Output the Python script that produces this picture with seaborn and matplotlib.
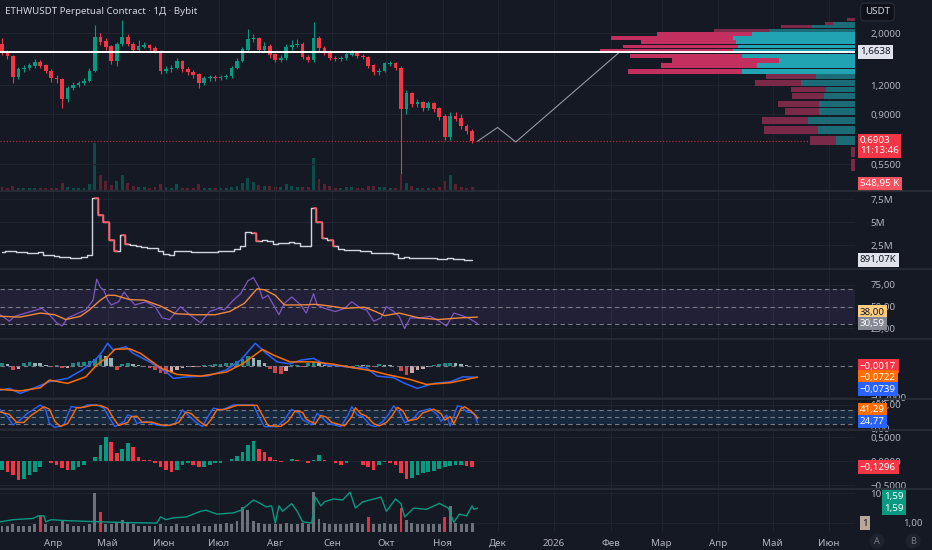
import numpy as np
import pandas as pd
import matplotlib
matplotlib.use("Agg")
import matplotlib.pyplot as plt
import matplotlib.transforms as mtransforms
import seaborn as sns

# ----------------- Data -----------------
title = "ETHWUSDT Perpetual Contract · 1Д · Bybit"
day0 = pd.Timestamp("2025-04-01")
first_candle = pd.Timestamp("2025-03-03")   # 3-day candles from here
month_labels = ["Апр", "Май", "Июн", "Июл", "Авг", "Сен", "Окт", "Ноя",
                "Дек", "2026", "Фев", "Мар", "Апр", "Май", "Июн"]

candle_open = [1.80, 1.65, 1.60, 1.30, 1.40, 1.42, 1.45, 1.50, 1.45, 1.38,
               1.28, 1.27, 1.05, 1.16, 1.20, 1.22, 1.25, 1.38, 1.92, 1.84,
               1.75, 1.52, 1.80, 1.92, 1.80, 1.70, 1.75, 1.78, 1.72, 1.68,
               1.38, 1.40, 1.42, 1.52, 1.40, 1.36, 1.33, 1.22, 1.28, 1.30,
               1.28, 1.30, 1.31, 1.42, 1.52, 1.70, 1.88, 1.90, 1.70, 1.75,
               1.62, 1.53, 1.56, 1.74, 1.78, 1.80, 1.58, 1.53, 1.90, 1.72,
               1.66, 1.56, 1.55, 1.56, 1.62, 1.65, 1.60, 1.58, 1.45, 1.36,
               1.38, 1.48, 1.49, 1.42, 0.95, 1.10, 1.00, 1.01, 0.96, 1.00,
               0.95, 0.88, 0.72, 0.88, 0.86, 0.80, 0.76]
candle_close = [1.65, 1.60, 1.30, 1.40, 1.42, 1.45, 1.50, 1.45, 1.38, 1.28,
                1.27, 1.05, 1.16, 1.20, 1.22, 1.25, 1.38, 1.92, 1.84, 1.75,
                1.52, 1.80, 1.92, 1.80, 1.70, 1.75, 1.78, 1.72, 1.68, 1.38,
                1.40, 1.42, 1.52, 1.40, 1.36, 1.33, 1.22, 1.28, 1.30, 1.28,
                1.30, 1.31, 1.42, 1.52, 1.70, 1.88, 1.90, 1.70, 1.75, 1.62,
                1.53, 1.56, 1.74, 1.78, 1.80, 1.58, 1.53, 1.90, 1.72, 1.66,
                1.56, 1.55, 1.56, 1.62, 1.65, 1.60, 1.58, 1.45, 1.36, 1.38,
                1.48, 1.49, 1.42, 0.95, 1.10, 1.00, 1.01, 0.96, 1.00, 0.95,
                0.88, 0.72, 0.88, 0.86, 0.80, 0.76, 0.69]
candle_high = [1.90, 1.70, 1.62, 1.43, 1.46, 1.49, 1.55, 1.53, 1.47, 1.40,
               1.33, 1.29, 1.19, 1.23, 1.25, 1.29, 1.42, 2.16, 2.00, 1.90,
               1.78, 1.84, 2.27, 1.98, 1.83, 1.86, 1.84, 1.80, 1.76, 1.70,
               1.45, 1.46, 1.56, 1.54, 1.43, 1.39, 1.35, 1.31, 1.33, 1.33,
               1.33, 1.34, 1.45, 1.56, 1.75, 2.08, 1.98, 1.93, 1.84, 1.79,
               1.65, 1.62, 1.80, 1.86, 1.88, 1.83, 1.62, 2.22, 1.95, 1.76,
               1.69, 1.59, 1.60, 1.66, 1.70, 1.67, 1.63, 1.60, 1.47, 1.42,
               1.51, 1.52, 1.51, 1.44, 1.14, 1.12, 1.05, 1.03, 1.03, 1.02,
               0.97, 0.90, 0.92, 0.92, 0.90, 0.82, 0.78]
candle_low = [1.62, 1.55, 1.22, 1.27, 1.37, 1.39, 1.42, 1.42, 1.35, 1.24,
              1.22, 0.96, 1.02, 1.14, 1.18, 1.20, 1.23, 1.36, 1.78, 1.70,
              1.48, 1.45, 1.76, 1.76, 1.66, 1.67, 1.72, 1.68, 1.64, 1.34,
              1.35, 1.37, 1.40, 1.37, 1.33, 1.29, 1.16, 1.20, 1.25, 1.25,
              1.26, 1.27, 1.29, 1.40, 1.50, 1.66, 1.84, 1.66, 1.67, 1.57,
              1.50, 1.50, 1.54, 1.70, 1.74, 1.55, 1.50, 1.50, 1.68, 1.62,
              1.53, 1.52, 1.52, 1.54, 1.60, 1.57, 1.55, 1.42, 1.33, 1.33,
              1.36, 1.44, 1.39, 0.50, 0.90, 0.97, 0.97, 0.93, 0.94, 0.92,
              0.85, 0.70, 0.70, 0.84, 0.78, 0.74, 0.68]
# volume bars under the candles (millions)
volume_bars = [0.5, 0.4, 0.6, 0.4, 0.3, 0.3, 0.4, 0.3, 0.3, 0.4,
               0.3, 1.2, 0.5, 0.3, 0.3, 0.3, 1.0, 7.6, 2.5, 1.5,
               0.8, 1.5, 2.4, 1.2, 0.6, 0.5, 0.5, 0.4, 0.5, 1.0,
               0.5, 0.4, 0.9, 0.4, 0.3, 0.3, 1.0, 0.4, 0.3, 0.3,
               0.3, 0.3, 0.5, 0.7, 1.2, 2.0, 1.3, 0.8, 0.6, 0.6,
               0.5, 0.5, 0.9, 0.6, 0.5, 0.5, 0.5, 5.2, 1.8, 1.0,
               0.6, 0.4, 0.4, 0.5, 0.5, 0.4, 0.4, 0.6, 0.6, 0.5,
               0.5, 0.4, 0.4, 2.5, 1.2, 0.6, 0.4, 0.4, 0.3, 0.4,
               0.5, 1.5, 2.4, 1.0, 0.5, 0.4, 0.55]
# volume line pane (millions)
volume_line = [1.75, 1.80, 1.90, 1.70, 1.70, 1.65, 1.60, 1.70, 1.45, 1.40,
               1.35, 1.20, 1.15, 1.10, 1.10, 1.15, 1.40, 7.60, 5.80, 5.00,
               3.00, 1.90, 3.60, 2.60, 2.50, 2.40, 2.30, 2.20, 2.20, 1.80,
               1.50, 1.40, 1.90, 1.90, 1.80, 1.75, 1.70, 1.70, 1.70, 1.75,
               1.80, 1.85, 1.90, 2.10, 2.40, 3.90, 3.80, 2.90, 3.00, 2.90,
               2.60, 2.70, 2.70, 2.80, 2.70, 2.40, 2.35, 6.50, 5.00, 3.30,
               3.00, 2.40, 2.10, 2.00, 1.95, 1.95, 1.90, 1.90, 1.60, 1.60,
               1.65, 1.60, 1.55, 1.10, 1.15, 1.10, 1.10, 1.05, 1.10, 1.05,
               1.00, 0.95, 1.05, 1.00, 0.95, 0.92, 0.891]

# projection drawn after the last candle (day offsets from 2025-04-01)
proj_days = [233, 244, 254, 311]
proj_price = [0.69, 0.79, 0.685, 1.66]

# volume profile rows (price bottom of each row, buy / sell volume)
vp_bottom = [0.507, 0.583, 0.658, 0.734, 0.809, 0.885, 0.960, 1.036,
             1.111, 1.187, 1.262, 1.338, 1.413, 1.489, 1.564, 1.640,
             1.715, 1.791, 1.866, 1.942, 2.017, 2.093, 2.168, 2.244]
vp_buy = [0, 0, 19, 37, 47, 36, 36, 31, 29, 54, 39, 113,
          98, 76, 113, 122, 117, 119, 122, 103, 86, 43, 22, 0]
vp_sell = [4, 4, 26, 54, 46, 34, 41, 32, 35, 46, 50, 114,
           96, 107, 112, 133, 115, 95, 122, 95, 55, 31, 8, 8]
vp_row = 0.0755
value_area = (1.338, 2.017)

# RSI (day, value)
rsi_days = [-29, -24, -21, -15, -9, -6, -2, 2, 5, 8, 12, 18, 22, 24, 26, 28, 30, 32, 36,
            39, 41, 45, 51, 56, 60, 64, 70, 75, 81, 86, 91, 94, 99, 103, 107, 110, 113,
            115, 118, 121, 124, 127, 131, 136, 139, 143, 145, 149, 155, 160, 164, 169,
            172, 176, 180, 183, 187, 190, 193, 196, 201, 207, 212, 216, 220, 223, 228, 233]
rsi_vals = [40.7, 33.3, 38.9, 42.6, 46.3, 48.0, 40.7, 31.5, 27.8, 37.0, 40.7, 46.3, 57.4,
            81.5, 72.2, 68.5, 57.4, 51.9, 55.6, 66.7, 61.1, 51.9, 55.6, 50.0, 37.0, 35.2,
            50.0, 40.7, 31.5, 44.4, 48.0, 46.3, 57.4, 64.8, 79.6, 83.3, 72.2, 59.2, 63.0,
            51.9, 40.7, 53.7, 61.1, 51.9, 42.6, 64.8, 51.9, 48.0, 44.4, 48.0, 55.6, 48.0,
            46.3, 33.3, 37.0, 50.0, 44.4, 38.9, 24.8, 37.0, 37.0, 38.9, 33.3, 27.8, 42.6,
            40.7, 37.0, 30.59]
rsi_ma_days = [-29, -18, -7, 1, 7, 15, 20, 26, 30, 34, 42, 50, 59, 67, 78, 89, 97, 105,
               112, 116, 122, 127, 136, 144, 152, 160, 171, 177, 182, 190, 201, 212, 223, 233]
rsi_ma_vals = [38.9, 38.0, 42.6, 40.7, 35.2, 38.9, 46.3, 57.4, 63.0, 63.0, 58.1, 57.4,
               50.7, 41.9, 40.7, 40.7, 44.4, 53.7, 70.4, 69.3, 63.0, 51.9, 51.9, 52.6,
               50.7, 48.0, 49.3, 44.4, 39.6, 42.6, 37.0, 35.2, 37.0, 38.0]

# MACD
macd_days = [-29, -24, -18, -11, -2, 8, 16, 24, 27, 30, 33, 40, 44, 53, 63, 66, 74, 85,
             95, 103, 111, 117, 123, 130, 136, 143, 150, 158, 165, 172, 178, 187, 193,
             200, 209, 218, 225, 233]
macd_vals = [-0.155, -0.144, -0.176, -0.144, -0.102, -0.080, -0.027, 0.047, 0.089, 0.143,
             0.100, 0.121, 0.079, 0.025, -0.048, -0.080, -0.070, -0.065, -0.027, 0.036,
             0.143, 0.079, 0.025, 0.012, 0.036, 0.047, 0.005, -0.002, -0.013, -0.013,
             -0.066, -0.076, -0.112, -0.144, -0.112, -0.102, -0.070, -0.0739]
signal_days = [-29, -18, -7, -2, 8, 18, 24, 30, 34, 42, 48, 59, 68, 81, 95, 104, 115,
               121, 130, 143, 154, 165, 176, 183, 196, 205, 218, 233]
signal_vals = [-0.150, -0.160, -0.140, -0.091, -0.112, -0.070, 0.005, 0.057, 0.105, 0.108,
               0.079, -0.013, -0.055, -0.066, -0.040, 0.012, 0.104, 0.068, 0.025, 0.025,
               0.010, -0.013, -0.034, -0.055, -0.087, -0.119, -0.108, -0.0722]
macd_hist = [0.015, 0.010, -0.028, -0.020, 0.020, 0.025, 0.020, 0.015, 0.005, -0.005,
             0.004, -0.015, -0.012, 0.015, 0.025, 0.025, 0.030, 0.045, 0.070, 0.060,
             0.050, -0.030, 0.010, 0.015, 0.012, 0.005, -0.005, -0.015, -0.030, -0.045,
             -0.050, -0.040, -0.030, -0.015, -0.010, -0.008, -0.010, 0.005, 0.008, 0.010,
             0.012, 0.015, 0.020, 0.030, 0.045, 0.060, 0.050, 0.035, 0.020, -0.020,
             -0.045, -0.050, -0.035, 0.005, 0.008, -0.005, 0.015, 0.025, 0.020, 0.005,
             -0.005, 0.003, -0.004, 0.002, -0.003, 0.004, 0.002, 0.008, -0.010, 0.012,
             0.008, 0.005, -0.004, -0.035, -0.060, -0.045, -0.030, -0.020, -0.010, 0.005,
             0.012, 0.018, 0.020, 0.015, 0.010, 0.004, -0.0017]

# Stoch RSI
stoch_k_days = [-29, -25, -22, -18, -14, -7, -4, -2, 1, 6, 8, 10, 15, 19, 24, 28, 31, 34,
                39, 41, 44, 46, 51, 57, 62, 67, 71, 74, 78, 82, 85, 88, 92, 95, 99, 110,
                113, 116, 123, 127, 131, 135, 137, 139, 142, 145, 148, 151, 158, 162, 164,
                167, 170, 174, 177, 181, 184, 187, 190, 193, 198, 201, 207, 211, 213, 216,
                218, 222, 224, 227, 231, 233]
stoch_k_vals = [79, 50, 14, 36, 64, 100, 79, 21, 4, 14, 57, 93, 86, 100, 100, 86, 43, 7,
                29, 57, 50, 21, 29, 14, 10, 21, 79, 57, 29, 7, 50, 86, 79, 86, 100, 100,
                50, 7, 7, 36, 81, 64, 36, 29, 14, 64, 43, 21, 7, 57, 93, 57, 50, 14, 7,
                29, 57, 96, 71, 24, 43, 71, 84, 57, 29, 57, 10, 96, 93, 71, 64, 24.77]
stoch_d_days = [-29, -24, -20, -16, -12, -5, -2, 1, 4, 8, 11, 13, 17, 21, 26, 30, 33, 36,
                41, 43, 46, 49, 54, 59, 64, 69, 73, 76, 80, 84, 87, 90, 94, 97, 101, 112,
                115, 118, 125, 129, 133, 137, 139, 141, 144, 147, 150, 153, 160, 164, 166,
                169, 172, 176, 179, 183, 186, 189, 192, 195, 200, 203, 209, 213, 215, 218,
                220, 224, 226, 229, 232, 233]
stoch_d_vals = [70, 60, 25, 25, 55, 92, 82, 30, 8, 20, 60, 88, 90, 98, 98, 85, 45, 12,
                25, 50, 52, 25, 27, 15, 12, 25, 70, 62, 32, 10, 40, 80, 80, 88, 98, 98,
                55, 12, 8, 30, 75, 68, 40, 30, 20, 55, 48, 25, 10, 50, 88, 62, 52, 20, 10,
                25, 52, 90, 75, 32, 40, 66, 82, 62, 35, 50, 20, 85, 92, 76, 55, 41.29]

# momentum histogram
momentum = [-0.19, -0.22, -0.29, -0.40, -0.37, -0.29, -0.22, -0.12, -0.01, -0.05,
            -0.08, -0.15, -0.19, -0.19, -0.12, -0.08, -0.01, 0.09, 0.33, 0.49,
            0.40, 0.16, 0.26, 0.37, 0.30, 0.09, 0.03, 0.02, -0.05, -0.12,
            -0.19, -0.22, -0.19, -0.08, -0.05, -0.08, -0.12, -0.12, -0.08, -0.05,
            -0.05, -0.01, 0.05, 0.10, 0.19, 0.33, 0.42, 0.26, 0.19, 0.09,
            0.02, -0.03, -0.01, 0.05, 0.03, -0.01, -0.05, 0.02, 0.13, 0.02,
            -0.01, -0.05, -0.08, -0.05, -0.01, -0.01, -0.08, -0.12, -0.19, -0.08,
            -0.03, -0.05, -0.08, -0.26, -0.37, -0.35, -0.29, -0.26, -0.22, -0.20,
            -0.17, -0.12, -0.11, -0.08, -0.08, -0.11, -0.1296]

# bottom pane: bars and line (log scale)
bottom_bars = [0.8, 0.8, 0.9, 0.8, 0.8, 0.8, 0.9, 1.9, 0.9, 0.8,
               0.8, 1.3, 0.9, 0.8, 0.8, 0.8, 0.9, 10.0, 2.4, 0.9,
               0.9, 1.1, 1.3, 1.0, 0.9, 0.8, 0.8, 0.8, 0.8, 0.9,
               0.8, 0.8, 0.9, 0.8, 0.8, 0.8, 0.9, 0.8, 0.8, 0.9,
               0.9, 1.0, 0.9, 1.2, 3.5, 2.8, 1.2, 1.0, 0.9, 0.9,
               0.9, 0.9, 1.0, 0.9, 0.9, 1.0, 0.9, 11.5, 1.4, 1.0,
               0.9, 0.9, 0.9, 0.9, 1.0, 1.0, 0.9, 1.6, 0.9, 0.9,
               1.0, 0.9, 0.9, 3.2, 1.3, 1.0, 0.9, 0.9, 0.9, 0.9,
               0.9, 1.6, 3.8, 1.0, 0.9, 0.9, 1.0]
bottom_red = [7, 18, 67, 73, 81]
bline_days = [-29, -22, -11, -8, -5, -4, -1, 8, 26, 44, 57, 59, 62, 66, 73, 81, 84, 90,
              99, 103, 107, 110, 114, 117, 120, 122, 124, 126, 131, 134, 137, 142, 144,
              147, 149, 154, 159, 163, 166, 170, 174, 180, 183, 188, 191, 193, 198, 205,
              212, 217, 220, 223, 227, 230, 231, 233]
bline_vals = [1.1, 1.3, 1.43, 1.75, 1.75, 1.1, 1.3, 1.2, 1.1, 1.03, 1.0, 1.62, 1.3, 1.5,
              1.6, 2.5, 2.7, 2.0, 2.2, 2.7, 4.2, 6.0, 4.5, 3.5, 3.8, 1.0, 3.8, 2.5, 4.5,
              2.5, 1.1, 1.0, 7.5, 3.8, 5.2, 6.5, 6.0, 11.0, 3.2, 5.2, 6.0, 7.5, 2.5, 6.5,
              4.5, 1.6, 3.2, 2.9, 4.6, 3.2, 1.05, 2.0, 1.75, 3.8, 2.9, 3.2]

# ----------------- Style -----------------
BG = "#151924"
GRID = "#1f2330"
TXT = "#b2b5be"
UP = "#089981"
DOWN = "#f23645"

sns.set_theme(style="dark", rc={"axes.facecolor": BG, "figure.facecolor": BG,
                                "axes.edgecolor": BG, "text.color": TXT,
                                "xtick.color": TXT, "ytick.color": TXT})
plt.rcParams["font.family"] = ["Noto Sans", "DejaVu Sans"]

W, H = 932, 550
fig = plt.figure(figsize=(W / 100, H / 100), dpi=100)


def pane(top, bottom):
    return [0, 1 - bottom / H, 855 / W, (bottom - top) / H]


ax_p = fig.add_axes(pane(0, 190))
ax_vol = fig.add_axes(pane(191, 268), sharex=ax_p)
ax_rsi = fig.add_axes(pane(270, 338), sharex=ax_p)
ax_macd = fig.add_axes(pane(340, 398), sharex=ax_p)
ax_st = fig.add_axes(pane(400, 429), sharex=ax_p)
ax_mom = fig.add_axes(pane(431, 488), sharex=ax_p)
ax_bot = fig.add_axes(pane(490, 532), sharex=ax_p)
panes = [ax_p, ax_vol, ax_rsi, ax_macd, ax_st, ax_mom, ax_bot]

# twins on the price pane: volume bars below, volume profile on top
ax_v0 = ax_p.twinx()
ax_vp = ax_p.twiny()

n = len(candle_close)
cdays = (first_candle - day0).days + 1 + 3 * np.arange(n)
months = pd.date_range("2025-04-01", "2026-06-01", freq="MS")
month_days = (months - day0).days

for ax in panes:
    ax.set_xlim(-29.1, 440.2)
    for s in ax.spines.values():
        s.set_visible(False)
    ax.set_xticks(month_days)
    ax.grid(True, axis="both", color=GRID, lw=0.8)
    ax.set_axisbelow(True)
    ax.tick_params(axis="y", which="both", left=False, labelleft=False, right=False,
                   labelright=True, labelsize=7, pad=5, labelcolor=TXT)
    ax.tick_params(axis="x", which="both", bottom=False, top=False,
                   labelbottom=False, labeltop=False)

ax_bot.tick_params(axis="x", labelbottom=True, labelsize=7, pad=-1, labelcolor=TXT)
ax_bot.set_xticklabels(month_labels)
for lbl in ax_bot.get_xticklabels():
    if lbl.get_text() == "2026":
        lbl.set_fontweight("bold")

# ---- price pane ----
ax_p.set_yscale("log")
ax_p.set_ylim(0.427, 2.77)
ax_p.set_yticks([0.55, 0.9, 1.2, 2.0])
ax_p.set_yticklabels(["0,5500", "0,9000", "1,2000", "2,0000"])
ax_p.yaxis.set_minor_locator(matplotlib.ticker.NullLocator())

ax_v0.set_ylim(0, 30.7)
ax_v0.set_yticks([])
for tw in (ax_v0, ax_vp):
    tw.tick_params(which="both", left=False, right=False, top=False, bottom=False,
                   labelleft=False, labelright=False, labeltop=False, labelbottom=False)
    for s in tw.spines.values():
        s.set_visible(False)
ax_p.set_zorder(ax_v0.get_zorder() + 1)
ax_p.patch.set_visible(False)

c_open = np.array(candle_open)
c_close = np.array(candle_close)
up = c_close >= c_open
ccol = np.where(up, UP, DOWN)
ax_v0.bar(cdays, volume_bars, width=1.6, color=np.where(up, "#0d4d49", "#5c2130"),
          linewidth=0)
ax_p.vlines(cdays, candle_low, candle_high, color=ccol, lw=0.8)
ax_p.bar(cdays, np.abs(c_close - c_open) + 0.004, bottom=np.minimum(c_open, c_close),
         width=2.0, color=ccol, linewidth=0)
ax_p.axhline(candle_close[-1], color=DOWN, lw=0.9, ls=(0, (1, 1.5)), alpha=0.7)
sns.lineplot(x=proj_days, y=proj_price, ax=ax_p, color="#9598a1", lw=0.8)

# volume profile
ax_vp.set_zorder(ax_p.get_zorder() + 1)
ax_vp.patch.set_visible(False)
tot = np.array(vp_buy) + np.array(vp_sell)
ax_vp.set_xlim(tot.max() / 0.298, 0)
ax_vp.set_xticks([])
ax_vp.grid(False)
vb = np.array(vp_bottom)
centers = vb + vp_row / 2
inside = (vb >= value_area[0] - 1e-6) & (vb < value_area[1] - 1e-6)
ax_vp.barh(centers, vp_buy, height=vp_row * 0.86,
           color=np.where(inside, "#22a3b3", "#1b6c77"), linewidth=0)
ax_vp.barh(centers, vp_sell, left=vp_buy, height=vp_row * 0.86,
           color=np.where(inside, "#c3305f", "#7a2949"), linewidth=0)
ax_vp.axhline(1.6638, color="white", lw=1.4)

# re-apply tick settings that twinx/twiny reset on the price pane
ax_p.tick_params(axis="y", which="both", left=False, labelleft=False, right=False,
                 labelright=True)
ax_p.tick_params(axis="x", which="both", bottom=False, top=False, labelbottom=False)

# ---- volume pane ----
ax_vol.set_ylim(0, 8.37)
ax_vol.set_yticks([2.5, 5, 7.5])
ax_vol.set_yticklabels(["2,5M", "5M", "7,5M"])
vl = np.array(volume_line)
sns.lineplot(x=cdays, y=vl, ax=ax_vol, color="#d1d4dc", lw=1.0, drawstyle="steps-mid")
falling = np.where(np.diff(vl) < -0.5)[0] + 1
for i in falling:
    ax_vol.plot(cdays[i - 1:i + 1], vl[i - 1:i + 1], color="#f7525f", lw=1.2,
                drawstyle="steps-mid")

# ---- RSI pane ----
ax_rsi.set_ylim(14, 92)
ax_rsi.set_yticks([25, 50, 75])
ax_rsi.set_yticklabels(["25,00", "50,00", "75,00"])
ax_rsi.axhspan(30, 70, color="#7e57c2", alpha=0.12, lw=0)
for lvl in [30, 50, 70]:
    ax_rsi.axhline(lvl, color="#787b86", lw=0.8, ls=(0, (4, 3)))
sns.lineplot(x=rsi_days, y=rsi_vals, ax=ax_rsi, color="#7e57c2", lw=0.9)
sns.lineplot(x=rsi_ma_days, y=rsi_ma_vals, ax=ax_rsi, color="#f0883e", lw=1.0)

# ---- MACD pane ----
ax_macd.set_ylim(-0.205, 0.164)
ax_macd.set_yticks([-0.2])
ax_macd.set_yticklabels(["−0,2000"])
ax_macd.axhline(0, color="#787b86", lw=0.8, ls=(0, (4, 3)))
mh = np.array(macd_hist)
prev = np.concatenate([[mh[0]], mh[:-1]])
mcol = np.where(mh >= 0, np.where(mh >= prev, "#26a69a", "#b2dfdb"),
                np.where(mh < prev, "#ff5252", "#ffcdd2"))
ax_macd.bar(cdays, mh, width=2.0, color=mcol, linewidth=0, alpha=0.8)
sns.lineplot(x=macd_days, y=macd_vals, ax=ax_macd, color="#2962ff", lw=1.1)
sns.lineplot(x=signal_days, y=signal_vals, ax=ax_macd, color="#ff6d00", lw=1.1)

# ---- Stoch RSI pane ----
ax_st.set_ylim(-3, 121)
ax_st.set_yticks([0, 100])
ax_st.set_yticklabels(["0,00", "100,00"])
ax_st.axhspan(20, 80, color="#2196f3", alpha=0.12, lw=0)
for lvl in [20, 50, 80]:
    ax_st.axhline(lvl, color="#787b86", lw=0.8, ls=(0, (4, 3)))
sns.lineplot(x=stoch_k_days, y=stoch_k_vals, ax=ax_st, color="#2962ff", lw=1.0)
sns.lineplot(x=stoch_d_days, y=stoch_d_vals, ax=ax_st, color="#ff6d00", lw=1.0)

# ---- momentum pane ----
ax_mom.set_ylim(-0.5625, 0.625)
ax_mom.set_yticks([-0.5, 0, 0.5])
ax_mom.set_yticklabels(["−0,5000", "0,0000", "0,5000"])
mo = np.array(momentum)
mprev = np.concatenate([[mo[0]], mo[:-1]])
ax_mom.bar(cdays, mo, width=2.0, color=np.where(mo >= mprev, UP, DOWN), linewidth=0)

# ---- bottom pane ----
ax_bot.set_yscale("log")
ax_bot.set_ylim(0.5, 13)
ax_bot.set_yticks([1, 10])
ax_bot.set_yticklabels(["", "10"])
ax_bot.yaxis.set_minor_locator(matplotlib.ticker.NullLocator())
bcol = np.array(["#787b86"] * n, dtype=object)
bcol[bottom_red] = DOWN
ax_bot.bar(cdays, np.array(bottom_bars) - 0.5, bottom=0.5, width=1.6, color=bcol,
           linewidth=0, alpha=0.9)
sns.lineplot(x=bline_days, y=bline_vals, ax=ax_bot, color="#089981", lw=1.0)

for ax in panes:
    ax.set_xlabel("")
    ax.set_ylabel("")

# ---- pane separators ----
for yy in [190.5, 269, 339, 399, 430, 489]:
    fig.add_artist(plt.Line2D([0, 1], [1 - yy / H] * 2, color="#2a2e39", lw=1.2))

# ---- title and price tags ----
fig.text(5 / W, 1 - 11 / H, title, fontsize=7, color="#d1d4dc", va="center")
fig.text(865 / W, 1 - 12 / H, "USDT", fontsize=7, color="#d1d4dc", va="center",
         bbox=dict(boxstyle="round,pad=0.45", fc="#0e1119", ec="#2a2e39", lw=0.8))


def tag(ax, y, text, bg, fg="white", dy=0, x=860):
    tr = mtransforms.blended_transform_factory(fig.transFigure, ax.transData)
    ax.annotate(text, xy=(x / W, y), xycoords=tr, xytext=(0, dy * 0.72),
                textcoords="offset points", fontsize=7, color=fg, va="center",
                ha="left", annotation_clip=False, zorder=20,
                bbox=dict(boxstyle="square,pad=0.25", fc=bg, ec="none"))


tag(ax_vp, 1.6638, "1,6638", "#e0e3eb", fg="#131722")
tag(ax_p, candle_close[-1], "0,6903\n11:13:46", DOWN, dy=-4.5)
tag(ax_v0, 0.55, "548,95 K", "#f7525f", dy=3)
tag(ax_vol, volume_line[-1], "891,07K", "#e0e3eb", fg="#131722")
tag(ax_rsi, rsi_ma_vals[-1], "38,00", "#ffcc80", fg="#131722", dy=5)
tag(ax_rsi, rsi_vals[-1], "30,59", "#868993")
tag(ax_macd, macd_hist[-1], "−0,0017", DOWN)
tag(ax_macd, signal_vals[-1], "−0,0722", "#ff6d00")
tag(ax_macd, macd_vals[-1], "−0,0739", "#2962ff", dy=-12)
tag(ax_st, stoch_d_vals[-1], "41,29", "#ff6d00", dy=9)
tag(ax_st, stoch_k_vals[-1], "24,77", "#2962ff", dy=1)
tag(ax_mom, momentum[-1], "−0,1296", DOWN)
tag(ax_bot, 1.0, "1", "#b8a89a", fg="#131722", x=862)
tag(ax_bot, 5.0, "1,59", UP, x=884, dy=6)
tag(ax_bot, 5.0, "1,59", UP, x=884, dy=-6)
tr_bot = mtransforms.blended_transform_factory(fig.transFigure, ax_bot.transData)
ax_bot.text(903 / W, 1.0, "1,00", transform=tr_bot, fontsize=7, color=TXT,
            va="center", ha="left", clip_on=False)

for xx, letter in [(877, "A"), (913, "B")]:
    fig.text(xx / W, 1 - 541 / H, letter, fontsize=6.5, color="#787b86", ha="center",
             va="center", bbox=dict(boxstyle="circle,pad=0.35", fc="#1e222d", ec="none"))

fig.savefig("out.png", dpi=100, facecolor=BG)
